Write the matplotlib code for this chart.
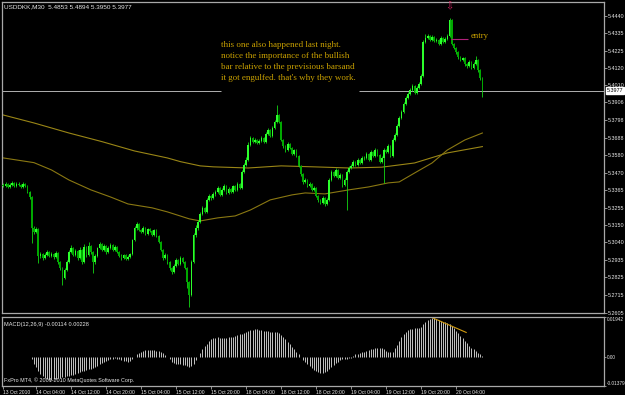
import matplotlib
matplotlib.use("Agg")
import matplotlib.pyplot as plt
import numpy as np

# ---------------- data ----------------
symbol_text = "USDDKK,M30  5.4853 5.4894 5.3950 5.3977"
macd_text = "MACD(12,26,9) -0.00114 0.00228"
copyright_text = "FxPro MT4, \u00a9 2001-2010 MetaQuotes Software Corp."

first_open = 5.3395
closes = [
    5.3389, 5.3402, 5.3383, 5.3396, 5.3408, 5.3389, 5.3402, 5.3396, 5.3383, 5.3402,
    5.3389, 5.3352, 5.3322, 5.3130, 5.3106, 5.3124, 5.2958, 5.2970, 5.2945, 5.2964,
    5.2982, 5.2958, 5.2970, 5.2951, 5.2976, 5.2920, 5.2883, 5.2822, 5.2871, 5.2920,
    5.2982, 5.3007, 5.2964, 5.2988, 5.2945, 5.2995, 5.2920, 5.3013, 5.2964, 5.3019,
    5.2982, 5.2920, 5.2958, 5.3007, 5.3032, 5.2995, 5.3019, 5.2982, 5.3007, 5.3025,
    5.2995, 5.3013, 5.2982, 5.2958, 5.2945, 5.2964, 5.2939, 5.2951, 5.2970, 5.3056,
    5.3130, 5.3155, 5.3118, 5.3106, 5.3130, 5.3093, 5.3124, 5.3112, 5.3087, 5.3118,
    5.3081, 5.3044, 5.2995, 5.2945, 5.2964, 5.2920, 5.2883, 5.2859, 5.2896, 5.2933,
    5.2908, 5.2945, 5.2920, 5.2883, 5.2797, 5.2717, 5.2920, 5.3087, 5.3130, 5.3167,
    5.3217, 5.3254, 5.3229, 5.3303, 5.3328, 5.3315, 5.3340, 5.3352, 5.3377, 5.3334,
    5.3365, 5.3389, 5.3346, 5.3371, 5.3352, 5.3389, 5.3365, 5.3402, 5.3377, 5.3476,
    5.3519, 5.3550, 5.3642, 5.3686, 5.3661, 5.3673, 5.3655, 5.3667, 5.3686, 5.3661,
    5.3710, 5.3735, 5.3698, 5.3747, 5.3784, 5.3827, 5.3784, 5.3673, 5.3636, 5.3612,
    5.3649, 5.3624, 5.3587, 5.3612, 5.3575, 5.3513, 5.3463, 5.3414, 5.3426, 5.3389,
    5.3402, 5.3365, 5.3377, 5.3328, 5.3303, 5.3285, 5.3315, 5.3278, 5.3303, 5.3426,
    5.3476, 5.3451, 5.3488, 5.3439, 5.3457, 5.3396, 5.3426, 5.3476, 5.3500, 5.3513,
    5.3538, 5.3519, 5.3550, 5.3531, 5.3562, 5.3562, 5.3587, 5.3550, 5.3599, 5.3575,
    5.3612, 5.3581, 5.3538, 5.3562, 5.3612, 5.3599, 5.3636, 5.3575, 5.3673, 5.3704,
    5.3760, 5.3809, 5.3846, 5.3895, 5.3932, 5.3957, 5.3982, 5.4006, 5.3963, 5.3994,
    5.4019, 5.4068, 5.4278, 5.4303, 5.4315, 5.4290, 5.4309, 5.4284, 5.4290, 5.4266,
    5.4303, 5.4278, 5.4296, 5.4315, 5.4414, 5.4266, 5.4241, 5.4216, 5.4185, 5.4167,
    5.4179, 5.4142, 5.4130, 5.4154, 5.4117, 5.4142, 5.4167, 5.4105, 5.4056, 5.3977,
]
highs = [
    5.3405, 5.3412, 5.3410, 5.3408, 5.3418, 5.3414, 5.3411, 5.3415, 5.3404, 5.3412,
    5.3408, 5.3394, 5.3358, 5.3326, 5.3142, 5.3136, 5.3128, 5.2982, 5.2978, 5.2975,
    5.2994, 5.2990, 5.2983, 5.2976, 5.2990, 5.2982, 5.2928, 5.2890, 5.2880, 5.2930,
    5.2995, 5.3025, 5.3012, 5.3000, 5.2995, 5.3010, 5.3000, 5.3030, 5.3018, 5.3040,
    5.3025, 5.2990, 5.2968, 5.3015, 5.3045, 5.3038, 5.3030, 5.3025, 5.3016, 5.3035,
    5.3030, 5.3022, 5.3018, 5.2988, 5.2966, 5.2972, 5.2970, 5.2960, 5.2978, 5.3062,
    5.3142, 5.3168, 5.3160, 5.3125, 5.3140, 5.3136, 5.3132, 5.3130, 5.3118, 5.3126,
    5.3122, 5.3086, 5.3050, 5.3000, 5.2975, 5.2970, 5.2928, 5.2890, 5.2905, 5.2945,
    5.2940, 5.2955, 5.2952, 5.2926, 5.2890, 5.2805, 5.2935, 5.3100, 5.3145, 5.3180,
    5.3230, 5.3268, 5.3262, 5.3315, 5.3340, 5.3336, 5.3352, 5.3362, 5.3390, 5.3382,
    5.3375, 5.3400, 5.3395, 5.3380, 5.3378, 5.3398, 5.3394, 5.3412, 5.3408, 5.3488,
    5.3532, 5.3565, 5.3660, 5.3700, 5.3692, 5.3682, 5.3680, 5.3676, 5.3696, 5.3692,
    5.3722, 5.3748, 5.3740, 5.3760, 5.3798, 5.3889, 5.3835, 5.3790, 5.3680, 5.3642,
    5.3660, 5.3655, 5.3630, 5.3620, 5.3618, 5.3580, 5.3520, 5.3470, 5.3436, 5.3432,
    5.3412, 5.3408, 5.3386, 5.3382, 5.3334, 5.3310, 5.3325, 5.3320, 5.3314, 5.3438,
    5.3490, 5.3482, 5.3500, 5.3495, 5.3468, 5.3462, 5.3436, 5.3488, 5.3512, 5.3524,
    5.3548, 5.3545, 5.3560, 5.3556, 5.3572, 5.3572, 5.3598, 5.3592, 5.3610, 5.3605,
    5.3625, 5.3618, 5.3586, 5.3572, 5.3622, 5.3620, 5.3648, 5.3640, 5.3688, 5.3716,
    5.3772, 5.3822, 5.3860, 5.3908, 5.3945, 5.3968, 5.3995, 5.4018, 5.4012, 5.4005,
    5.4030, 5.4080, 5.4292, 5.4330, 5.4328, 5.4322, 5.4320, 5.4315, 5.4300, 5.4296,
    5.4314, 5.4308, 5.4306, 5.4326, 5.4426, 5.4418, 5.4272, 5.4248, 5.4222, 5.4192,
    5.4188, 5.4185, 5.4150, 5.4164, 5.4160, 5.4152, 5.4190, 5.4172, 5.4110, 5.4062,
]
lows = [
    5.3380, 5.3382, 5.3376, 5.3378, 5.3390, 5.3383, 5.3384, 5.3388, 5.3375, 5.3378,
    5.3381, 5.3344, 5.3310, 5.3037, 5.3090, 5.3098, 5.2914, 5.2945, 5.2935, 5.2936,
    5.2955, 5.2948, 5.2950, 5.2940, 5.2944, 5.2910, 5.2870, 5.2778, 5.2815, 5.2862,
    5.2912, 5.2975, 5.2955, 5.2955, 5.2930, 5.2940, 5.2905, 5.2915, 5.2950, 5.2958,
    5.2970, 5.2852, 5.2910, 5.2950, 5.3000, 5.2985, 5.2988, 5.2972, 5.2975, 5.3000,
    5.2985, 5.2988, 5.2975, 5.2948, 5.2935, 5.2938, 5.2930, 5.2932, 5.2945, 5.2965,
    5.3050, 5.3120, 5.3110, 5.3098, 5.3100, 5.3085, 5.3088, 5.3104, 5.3078, 5.3080,
    5.3072, 5.3035, 5.2985, 5.2935, 5.2938, 5.2910, 5.2872, 5.2848, 5.2852, 5.2890,
    5.2900, 5.2902, 5.2912, 5.2875, 5.2760, 5.2642, 5.2710, 5.2915, 5.3075, 5.3120,
    5.3160, 5.3210, 5.3220, 5.3222, 5.3295, 5.3305, 5.3308, 5.3330, 5.3345, 5.3325,
    5.3326, 5.3358, 5.3338, 5.3340, 5.3344, 5.3345, 5.3356, 5.3358, 5.3368, 5.3370,
    5.3468, 5.3510, 5.3545, 5.3635, 5.3652, 5.3655, 5.3646, 5.3648, 5.3660, 5.3652,
    5.3655, 5.3702, 5.3690, 5.3692, 5.3740, 5.3778, 5.3775, 5.3665, 5.3626, 5.3600,
    5.3605, 5.3615, 5.3578, 5.3580, 5.3565, 5.3505, 5.3452, 5.3402, 5.3405, 5.3380,
    5.3382, 5.3356, 5.3358, 5.3318, 5.3292, 5.3275, 5.3280, 5.3268, 5.3272, 5.3298,
    5.3420, 5.3442, 5.3445, 5.3430, 5.3432, 5.3385, 5.3388, 5.3241, 5.3470, 5.3494,
    5.3505, 5.3510, 5.3512, 5.3522, 5.3525, 5.3552, 5.3555, 5.3542, 5.3545, 5.3566,
    5.3570, 5.3572, 5.3528, 5.3530, 5.3408, 5.3590, 5.3592, 5.3565, 5.3570, 5.3665,
    5.3698, 5.3752, 5.3800, 5.3840, 5.3888, 5.3925, 5.3950, 5.3975, 5.3955, 5.3958,
    5.3988, 5.4012, 5.4060, 5.4270, 5.4295, 5.4282, 5.4284, 5.4276, 5.4275, 5.4258,
    5.4260, 5.4270, 5.4272, 5.4290, 5.4310, 5.4258, 5.4232, 5.4205, 5.4175, 5.4158,
    5.4160, 5.4132, 5.4120, 5.4124, 5.4108, 5.4110, 5.4135, 5.4095, 5.4045, 5.3938,
]
opens = [first_open] + closes[:-1]

ma_slow_idx = [0, 14, 30, 45, 60, 75, 81, 90, 96, 112, 127, 142, 158, 173, 188, 203, 219]
ma_slow = [5.3827, 5.3778, 5.3716, 5.3663, 5.3605, 5.3562, 5.3539, 5.3513, 5.3507,
           5.3500, 5.3513, 5.3507, 5.3500, 5.3505, 5.3531, 5.3593, 5.3632]
ma_fast_idx = [0, 14, 22, 30, 40, 49, 57, 68, 75, 85, 90, 98, 106, 113, 122, 132, 138,
               147, 158, 167, 176, 181, 188, 196, 203, 211, 219]
ma_fast = [5.3562, 5.3533, 5.3488, 5.3426, 5.3365, 5.3321, 5.3278, 5.3254, 5.3229,
           5.3186, 5.3173, 5.3192, 5.3204, 5.3241, 5.3303, 5.3334, 5.3346, 5.3340,
           5.3365, 5.3383, 5.3408, 5.3414, 5.3469, 5.3531, 5.3611, 5.3673, 5.3716]

macd_hist = [
    0.0003, 0.0004, 0.0004, 0.0003, 0.0004, 0.0004, 0.0003, 0.0004, 0.0003, 0.0004,
    0.0003, 0.0002, 0.0001, -0.0010, -0.0030, -0.0048, -0.0066, -0.0080, -0.0090, -0.0098,
    -0.0104, -0.0107, -0.0108, -0.0106, -0.0104, -0.0100, -0.0097, -0.0095, -0.0094, -0.0090,
    -0.0088, -0.0086, -0.0084, -0.0080, -0.0076, -0.0072, -0.0068, -0.0064, -0.0060, -0.0057,
    -0.0054, -0.0050, -0.0046, -0.0040, -0.0034, -0.0028, -0.0022, -0.0016, -0.0012, -0.0008,
    -0.0006, -0.0005, -0.0006, -0.0010, -0.0014, -0.0016, -0.0018, -0.0020, -0.0018, -0.0008,
    0.0004, 0.0014, 0.0022, 0.0028, 0.0032, 0.0034, 0.0035, 0.0035, 0.0034, 0.0033,
    0.0032, 0.0030, 0.0026, 0.0020, 0.0012, 0.0004, -0.0010, -0.0020, -0.0026, -0.0030,
    -0.0032, -0.0034, -0.0036, -0.0038, -0.0042, -0.0046, -0.0044, -0.0030, -0.0012, 0.0002,
    0.0020, 0.0040, 0.0055, 0.0066, 0.0078, 0.0086, 0.0092, 0.0095, 0.0096, 0.0094,
    0.0092, 0.0093, 0.0092, 0.0096, 0.0098, 0.0100, 0.0104, 0.0106, 0.0110, 0.0114,
    0.0118, 0.0122, 0.0126, 0.0130, 0.0134, 0.0136, 0.0136, 0.0134, 0.0132, 0.0128,
    0.0126, 0.0125, 0.0124, 0.0124, 0.0123, 0.0122, 0.0116, 0.0108, 0.0098, 0.0088,
    0.0076, 0.0064, 0.0052, 0.0040, 0.0028, 0.0016, 0.0004, -0.0012, -0.0024, -0.0034,
    -0.0044, -0.0052, -0.0060, -0.0066, -0.0070, -0.0073, -0.0074, -0.0072, -0.0068, -0.0058,
    -0.0048, -0.0038, -0.0028, -0.0020, -0.0012, -0.0008, -0.0006, -0.0006, -0.0004, -0.0002,
    0.0008, 0.0014, 0.0018, 0.0022, 0.0024, 0.0026, 0.0030, 0.0034, 0.0038, 0.0042,
    0.0044, 0.0046, 0.0046, 0.0044, 0.0040, 0.0030, 0.0026, 0.0024, 0.0028, 0.0044,
    0.0060, 0.0080, 0.0098, 0.0112, 0.0124, 0.0132, 0.0136, 0.0138, 0.0140, 0.0140,
    0.0142, 0.0146, 0.0160, 0.0172, 0.0180, 0.0186, 0.0190, 0.0188, 0.0184, 0.0180,
    0.0176, 0.0172, 0.0168, 0.0164, 0.0162, 0.0152, 0.0140, 0.0128, 0.0116, 0.0104,
    0.0092, 0.0080, 0.0068, 0.0056, 0.0046, 0.0038, 0.0030, 0.0022, 0.0014, 0.0006,
]

price_tick_labels = ["5.4440", "5.4335", "5.4225", "5.4120", "5.4010", "5.3906",
                     "5.3798", "5.3688", "5.3580", "5.3470", "5.3365", "5.3255",
                     "5.3150", "5.3040", "5.2935", "5.2825", "5.2715", "5.2605"]
macd_tick_labels = ["0.01942", "0.00", "-0.01379"]
time_tick_idx = [0, 15, 31, 47, 63, 79, 95, 111, 127, 143, 159, 175, 191, 207]
time_labels = ["13 Oct 2010", "14 Oct 04:00", "14 Oct 12:00", "14 Oct 20:00",
               "15 Oct 04:00", "15 Oct 12:00", "15 Oct 20:00", "18 Oct 04:00",
               "18 Oct 12:00", "18 Oct 20:00", "19 Oct 04:00", "19 Oct 12:00",
               "19 Oct 20:00", "20 Oct 04:00"]
note_lines = ["this one also happened last night.",
              "notice the importance of the bullish",
              "bar relative to the previsious barsand",
              "it got engulfed. that's why they work."]
last_price = 5.3977
entry_price = 5.4296
entry_bars = [204.5, 212.4]
arrow_bar = 203.9
arrow_price = 5.4500
div_bars = [195.6, 211.6]
div_vals = [0.0193, 0.0120]
price_range = (5.26048, 5.45246)
macd_range = (-0.01379, 0.01942)

# ---------------- style ----------------
W, H = 625, 395
BG = "#000000"
FRAME = "#a8a8a8"
TXT = "#e8e8e8"
BULL = "#2cff2c"
BEAR = "#00a800"
WICK = "#14d814"
MA_COL1 = "#9a8616"
MA_COL2 = "#8a7812"
GOLD = "#c8a000"
SANS = "Liberation Sans"

fig = plt.figure(figsize=(W / 100, H / 100), dpi=100, facecolor=BG)

def fr(x0, y0, x1, y1):
    return [x0 / W, 1 - y1 / H, (x1 - x0) / W, (y1 - y0) / H]

ax = fig.add_axes(fr(2, 2, 604, 313))
axm = fig.add_axes(fr(2, 317, 604, 386))
xlim = (-0.6, 274.6)

for a in (ax, axm):
    a.set_facecolor(BG)
    for s in a.spines.values():
        s.set_color(FRAME)
        s.set_linewidth(0.9)
    a.set_xlim(*xlim)
    a.yaxis.tick_right()
    a.tick_params(axis="y", colors=FRAME, labelcolor=TXT, labelsize=3.9,
                  length=2, width=0.6, pad=1)

n = len(closes)
idx = np.arange(n)
o = np.array(opens); c = np.array(closes)
hi = np.array(highs); lo = np.array(lows)
up = c >= o

# wicks
ax.vlines(idx, lo, hi, colors=WICK, linewidth=0.6, zorder=3)
# bodies
body_bottom = np.minimum(o, c)
body_h = np.maximum(np.abs(c - o), 0.00025)
ax.bar(idx[up], body_h[up], bottom=body_bottom[up], width=0.78, color=BULL,
       linewidth=0, zorder=4)
ax.bar(idx[~up], body_h[~up], bottom=body_bottom[~up], width=0.78, color=BEAR,
       linewidth=0, zorder=4)

# moving averages
ax.plot(ma_slow_idx, ma_slow, color=MA_COL1, linewidth=0.8, zorder=2)
ax.plot(ma_fast_idx, ma_fast, color=MA_COL2, linewidth=0.8, zorder=2)

ax.set_ylim(*price_range)
ax.set_yticks([float(t) for t in price_tick_labels])
ax.set_yticklabels(price_tick_labels, family=SANS)
ax.set_xticks([])

# current price line (interrupted by the note box)
ax.hlines(last_price, xlim[0], 99.7, colors="#b0b0b0", linewidth=0.7, zorder=1)
ax.hlines(last_price, 162.7, xlim[1], colors="#b0b0b0", linewidth=0.7, zorder=1)
ax.text(1.0045, last_price, f"{last_price:.4f}", transform=ax.get_yaxis_transform(),
        ha="left", va="center", fontsize=3.9, family=SANS, color="#000000",
        bbox=dict(boxstyle="square,pad=0.15", facecolor="#ffffff", edgecolor="#ffffff"),
        zorder=10, clip_on=False)

# title
ax.text(0.003, 0.993, symbol_text, transform=ax.transAxes, ha="left", va="top",
        fontsize=4.6, family=SANS, color=TXT)

# note text
note_y = [5.4261, 5.4193, 5.4125, 5.4057]
for line, yv in zip(note_lines, note_y):
    ax.text(99.7, yv, line, ha="left", va="center", fontsize=6.5,
            family="Liberation Serif", color=GOLD, zorder=6)

# entry marker
ax.hlines(entry_price, entry_bars[0], entry_bars[1], colors="#b0207a", linewidth=0.8, zorder=6)
ax.text(entry_bars[1] + 1.2, entry_price + 0.0020, "entry", ha="left", va="center",
        fontsize=6.3, family="Liberation Serif", color=GOLD, zorder=6)
ax.text(arrow_bar, arrow_price, "\u21e9", ha="center", va="center", fontsize=7,
        color="#d02060", zorder=6)

# MACD panel
axm.vlines(idx, 0, macd_hist, colors="#c4c4c4", linewidth=0.7)
axm.plot(div_bars, div_vals, color="#d09a10", linewidth=0.8)
axm.set_ylim(*macd_range)
axm.set_yticks([0.01942, 0.0, -0.01379])
axm.set_yticklabels(macd_tick_labels, family=SANS)
axm.tick_params(axis="y", labelsize=3.4, pad=0.8, length=1.5)
labs = axm.get_yticklabels()
labs[0].set_verticalalignment("top")
labs[2].set_verticalalignment("bottom")
axm.set_xticks(time_tick_idx)
axm.set_xticklabels(time_labels, family=SANS)
for lab in axm.get_xticklabels():
    lab.set_horizontalalignment("left")
axm.tick_params(axis="x", colors=FRAME, labelcolor=TXT, labelsize=3.6,
                length=2, width=0.6, pad=1)
axm.text(0.003, 0.93, macd_text, transform=axm.transAxes, ha="left", va="top",
         fontsize=4.1, family=SANS, color=TXT)
axm.text(0.003, 0.05, copyright_text, transform=axm.transAxes, ha="left", va="bottom",
         fontsize=3.9, family=SANS, color=TXT)

fig.savefig("out.png", dpi=100, facecolor=BG)
